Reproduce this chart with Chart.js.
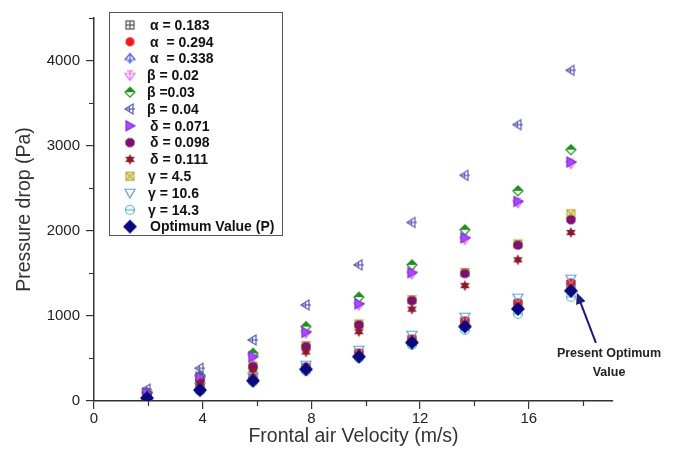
<!DOCTYPE html>
<html><head><meta charset="utf-8">
<script src="https://cdn.jsdelivr.net/npm/chart.js@4.4.1/dist/chart.umd.min.js"></script>
<style>html,body{margin:0;padding:0;background:#fff;} #wrap{width:677px;height:458px;}</style>
</head><body><div id="wrap"><canvas id="c" width="677" height="458"></canvas></div>
<script>
// ---- data ----
const velocity = [1.95, 3.9, 5.85, 7.8, 9.75, 11.7, 13.65, 15.6, 17.55];
const alpha0183 = [45, 140, 260, 390, 555, 720, 930, 1140, 1370];
const alpha0294 = [50, 150, 270, 400, 565, 729, 941, 1153, 1388];
const alpha0338 = [40, 135, 245, 380, 530, 700, 890, 1100, 1310];
const beta002 = [90, 275, 515, 800, 1130, 1495, 1900, 2330, 2790];
const beta003 = [100, 300, 561, 874, 1220, 1600, 2012, 2470, 2953];
const beta004 = [140, 385, 718, 1129, 1600, 2098, 2651, 3247, 3886];
const delta0071 = [95, 280, 521, 808, 1141, 1509, 1918, 2345, 2808];
const delta0098 = [70, 247, 404, 639, 894, 1180, 1498, 1832, 2129];
const delta0111 = [60, 212, 365, 576, 815, 1079, 1356, 1659, 1980];
const gamma45 = [72, 250, 410, 650, 905, 1190, 1510, 1845, 2200];
const gamma106 = [55, 165, 282, 424, 600, 776, 988, 1212, 1435];
const gamma143 = [30, 118, 224, 353, 506, 659, 835, 1024, 1224];
const optimum = [35, 129, 239, 373, 521, 686, 874, 1082, 1294];
const xTickValues = [0, 4, 8, 12, 16];
const yTickValues = [0, 1000, 2000, 3000, 4000];
const xMinorValues = [2, 6, 10, 14, 18];
const yMinorValues = [500, 1500, 2500, 3500, 4500];

const FONT = "'Liberation Sans', Arial, sans-serif";

function marker(kind, color, size, fill) {
  const pad = 2, w = size + pad * 2;
  const cv = document.createElement('canvas');
  cv.width = w; cv.height = w;
  const g = cv.getContext('2d');
  const c = w / 2, r = size / 2;
  g.strokeStyle = color; g.fillStyle = fill || color; g.lineWidth = 1.2;
  const line = (x1, y1, x2, y2) => { g.beginPath(); g.moveTo(x1, y1); g.lineTo(x2, y2); g.stroke(); };
  const poly = (pts) => { g.beginPath(); pts.forEach((p, i) => i ? g.lineTo(p[0], p[1]) : g.moveTo(p[0], p[1])); g.closePath(); };
  switch (kind) {
    case 'sqplus':
      g.strokeRect(c - r + 0.5, c - r + 0.5, size - 1, size - 1);
      line(c, c - r, c, c + r); line(c - r, c, c + r, c); break;
    case 'circle':
      g.beginPath(); g.arc(c, c, r, 0, Math.PI * 2); g.fill(); break;
    case 'uparrow':
      poly([[c, c - r], [c + r, c + 0.2 * r], [c - r, c + 0.2 * r]]); g.stroke();
      line(c, c - r, c, c + r); line(c - 0.5 * r, c + 0.55 * r, c + 0.5 * r, c + 0.55 * r); break;
    case 'downtricross':
      poly([[c - r, c - 0.4 * r], [c + r, c - 0.4 * r], [c, c + r]]); g.stroke();
      line(c, c - r, c, c + r); line(c - 0.6 * r, c - 0.9 * r, c + 0.6 * r, c - 0.9 * r); break;
    case 'halfdiamond':
      poly([[c, c - r], [c + r, c], [c, c + r], [c - r, c]]);
      g.fillStyle = '#ffffff'; g.fill(); g.stroke();
      poly([[c, c - r], [c + r, c], [c - r, c]]); g.fillStyle = color; g.fill(); break;
    case 'lefttricross':
      poly([[c - r, c], [c + 0.6 * r, c - r], [c + 0.6 * r, c + r]]); g.stroke();
      line(c - r, c, c + r, c); line(c - 0.1 * r, c - 0.6 * r, c - 0.1 * r, c + 0.6 * r); break;
    case 'righttri':
      poly([[c + r, c], [c - 0.8 * r, c - r], [c - 0.8 * r, c + r]]); g.fill(); g.stroke(); break;
    case 'hexagon': {
      const pts = [];
      for (let i = 0; i < 8; i++) { const a = Math.PI / 8 + i * Math.PI / 4; pts.push([c + r * Math.cos(a), c + r * Math.sin(a)]); }
      poly(pts); g.fill(); break; }
    case 'star6': {
      const pts = [];
      for (let i = 0; i < 12; i++) { const a = -Math.PI / 2 + i * Math.PI / 6; const rr = i % 2 ? r * 0.55 : r; pts.push([c + rr * Math.cos(a), c + rr * Math.sin(a)]); }
      poly(pts); g.fill(); break; }
    case 'sqx':
      g.fillRect(c - r, c - r, size, size);
      g.strokeRect(c - r + 0.5, c - r + 0.5, size - 1, size - 1);
      line(c - r, c - r, c + r, c + r); line(c + r, c - r, c - r, c + r); break;
    case 'downtri':
      poly([[c - r, c - 0.75 * r], [c + r, c - 0.75 * r], [c, c + r]]); g.stroke(); break;
    case 'circleminus':
      g.beginPath(); g.arc(c, c, r - 0.5, 0, Math.PI * 2); g.stroke();
      line(c - r, c, c + r, c); break;
    case 'diamond':
      poly([[c, c - r], [c + r, c], [c, c + r], [c - r, c]]); g.fill(); break;
  }
  return cv;
}

const seriesDefs = [
  { label: 'α = 0.183', data: alpha0183, m: marker('sqplus', '#4a4a4a', 9), order: 12 },
  { label: 'α  = 0.294', data: alpha0294, m: marker('circle', '#ee1c1c', 9), order: 8 },
  { label: 'α  = 0.338', data: alpha0338, m: marker('uparrow', '#4c5ad6', 10), order: 11 },
  { label: 'β = 0.02', data: beta002, m: marker('downtricross', '#e070ee', 10), order: 10 },
  { label: 'β =0.03', data: beta003, m: marker('halfdiamond', '#1f8f1f', 10), order: 5 },
  { label: 'β = 0.04', data: beta004, m: marker('lefttricross', '#5a5ab8', 10), order: 4 },
  { label: 'δ = 0.071', data: delta0071, m: marker('righttri', '#8a2be2', 10, '#a64dff'), order: 3 },
  { label: 'δ = 0.098', data: delta0098, m: marker('hexagon', '#7d1170', 10), order: 6 },
  { label: 'δ = 0.111', data: delta0111, m: marker('star6', '#8b1a2e', 11), order: 2 },
  { label: 'γ = 4.5', data: gamma45, m: marker('sqx', '#b8ae3e', 9, '#f3ecb0'), order: 9 },
  { label: 'γ = 10.6', data: gamma106, m: marker('downtri', '#5f9fe6', 10), order: 7 },
  { label: 'γ = 14.3', data: gamma143, m: marker('circleminus', '#5ab6c9', 10), order: 1 },
  { label: 'Optimum Value (P)', data: optimum, m: marker('diamond', '#0a0a80', 14), order: 0 }
];

const datasets = seriesDefs.map(s => ({
  label: s.label,
  data: velocity.map((v, i) => ({ x: v, y: s.data[i] })),
  pointStyle: s.m, showLine: false, order: s.order,
  pointRadius: 5, pointHoverRadius: 5
}));

const extras = {
  id: 'extras',
  afterDraw(chart) {
    const ctx = chart.ctx, xs = chart.scales.x, ys = chart.scales.y;
    const ca = chart.chartArea;
    ctx.save();
    // minor ticks
    ctx.strokeStyle = '#333'; ctx.lineWidth = 1.2;
    ctx.beginPath();
    xMinorValues.forEach(v => {
      const px = Math.round(xs.getPixelForValue(v)) + 0.5;
      ctx.moveTo(px, ca.bottom); ctx.lineTo(px, ca.bottom + 5);
    });
    yMinorValues.forEach(v => {
      const py = Math.round(ys.getPixelForValue(v)) + 0.5;
      ctx.moveTo(ca.left, py); ctx.lineTo(ca.left - 5, py);
    });
    ctx.stroke();
    // legend
    const lx = 109.5, ly = 12.5, lw = 173, lh = 223;
    ctx.fillStyle = '#fff'; ctx.fillRect(lx, ly, lw, lh);
    ctx.strokeStyle = '#555'; ctx.lineWidth = 1; ctx.strokeRect(lx, ly, lw, lh);
    ctx.font = 'bold 14px ' + FONT; ctx.fillStyle = '#111'; ctx.textBaseline = 'middle'; ctx.textAlign = 'left';
    seriesDefs.forEach((s, i) => {
      const y = 25 + i * 16.8;
      ctx.drawImage(s.m, 130 - s.m.width / 2, y - s.m.height / 2);
      const tx = s.label.startsWith('β') ? 147 : (s.label.startsWith('γ') ? 148 : 150);
      ctx.fillText(s.label, tx, y + 1);
    });
    // annotation
    const last = optimum.length - 1;
    const tipX = xs.getPixelForValue(velocity[last]) + 6;
    const tipY = ys.getPixelForValue(optimum[last]) + 2;
    const tailX = tipX + 19, tailY = tipY + 50;
    ctx.strokeStyle = '#1a1a7a'; ctx.fillStyle = '#1a1a7a'; ctx.lineWidth = 2;
    ctx.beginPath(); ctx.moveTo(tailX, tailY); ctx.lineTo(tipX + 3, tipY + 8); ctx.stroke();
    const ang = Math.atan2(tipY - tailY, tipX - tailX);
    ctx.beginPath();
    ctx.moveTo(tipX, tipY);
    ctx.lineTo(tipX - 11 * Math.cos(ang) + 5 * Math.sin(ang), tipY - 11 * Math.sin(ang) - 5 * Math.cos(ang));
    ctx.lineTo(tipX - 11 * Math.cos(ang) - 5 * Math.sin(ang), tipY - 11 * Math.sin(ang) + 5 * Math.cos(ang));
    ctx.closePath(); ctx.fill();
    ctx.font = 'bold 12.5px ' + FONT; ctx.fillStyle = '#222'; ctx.textAlign = 'center';
    ctx.fillText('Present Optimum', 609, 354);
    ctx.fillText('Value', 609, 373);
    ctx.restore();
  }
};

new Chart(document.getElementById('c'), {
  type: 'scatter',
  data: { datasets },
  options: {
    responsive: false, animation: false, devicePixelRatio: 1, events: [],
    layout: { padding: { top: 18, right: 64, left: 0, bottom: 0 } },
    plugins: { legend: { display: false }, tooltip: { enabled: false } },
    scales: {
      x: {
        type: 'linear', min: 0, max: 19.1,
        afterFit: s => { s.height = 57; },
        afterBuildTicks: s => { s.ticks = xTickValues.map(v => ({ value: v })); },
        border: { display: true, color: '#333', width: 1.5 },
        grid: { drawOnChartArea: false, drawTicks: true, tickLength: 8, color: '#333', lineWidth: 1.2 },
        ticks: { color: '#222', font: { family: FONT, size: 15 }, padding: 1, maxRotation: 0, autoSkip: false, callback: v => String(v) },
        title: { display: true, text: 'Frontal air Velocity (m/s)', color: '#333', font: { family: FONT, size: 19.5 }, padding: { top: 10, bottom: 10 } }
      },
      y: {
        type: 'linear', min: 0, max: 4500,
        afterFit: s => { s.width = 94; },
        afterBuildTicks: s => { s.ticks = yTickValues.map(v => ({ value: v })); },
        border: { display: true, color: '#333', width: 1.5 },
        grid: { drawOnChartArea: false, drawTicks: true, tickLength: 8, color: '#333', lineWidth: 1.2 },
        ticks: { color: '#222', font: { family: FONT, size: 15 }, padding: 6, autoSkip: false, callback: v => String(v) },
        title: { display: true, text: 'Pressure drop (Pa)', color: '#333', font: { family: FONT, size: 19.5 }, padding: { top: 13, bottom: 13 } }
      }
    }
  },
  plugins: [extras]
});
</script>
</body></html>
